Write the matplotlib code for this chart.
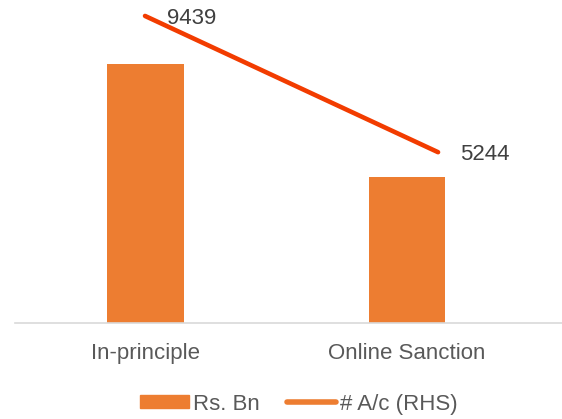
import matplotlib.pyplot as plt
from matplotlib.lines import Line2D

plt.rcParams['font.family'] = ['Liberation Sans', 'DejaVu Sans']

# Data
categories = ['In-principle', 'Online Sanction']
rs_bn = [32.1, 18.1]          # bars, left axis
accounts = [9439, 5244]       # line, right-hand axis

bar_color = '#ED7D31'
line_color = '#F23C00'

W, H = 562, 419
fig = plt.figure(figsize=(W / 100, H / 100), dpi=100)
rect = [15 / W, 1 - 322.5 / H, (W - 15) / W, 322.5 / H]

# Bars
ax = fig.add_axes(rect)
x = range(len(categories))
ax.bar(x, rs_bn, width=0.294, color=bar_color, zorder=2)
ax.set_xlim(-0.5, 1.593)
ax.set_ylim(0, 40)
ax.set_xticks(list(x))
ax.set_xticklabels(categories, fontsize=16, color='#595959')
ax.tick_params(axis='x', length=0, pad=15)
ax.set_yticks([])
for s in ['top', 'left', 'right']:
    ax.spines[s].set_visible(False)
ax.spines['bottom'].set_color('#D9D9D9')
ax.spines['bottom'].set_linewidth(1.2)

# Line on secondary scale
ax2 = fig.add_axes(rect)
ax2.patch.set_alpha(0)
ax2.axis('off')
ax2.plot(x, accounts, color=line_color, linewidth=3.3, solid_capstyle='round')
ax2.set_xlim(-0.4437, 1.423)
ax2.set_ylim(0, 9930)
for xi, v in zip(x, accounts):
    ax2.annotate(str(v), (xi, v), xytext=(16, -1.5), textcoords='offset points',
                 ha='left', va='center', fontsize=16, color='#404040')

# Legend
handles = [
    plt.Rectangle((0, 0), 1, 1, color=bar_color),
    Line2D([0], [0], color=bar_color, linewidth=4, solid_capstyle='round'),
]
fig.legend(handles, ['Rs. Bn', '# A/c (RHS)'], loc='center',
           bbox_to_anchor=(299 / W, 1 - 404 / H), ncol=2, frameon=False,
           fontsize=16, labelcolor='#595959', handlelength=2.2,
           handleheight=0.55, handletextpad=0.2, columnspacing=1.2)

fig.savefig('out.png', dpi=100)
